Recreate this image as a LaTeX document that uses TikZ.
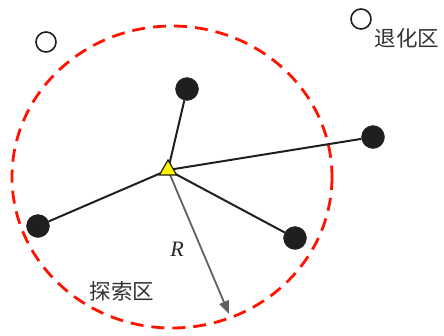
\documentclass[tikz,border=0pt]{standalone}
\usepackage{fontspec}
\setmainfont{Liberation Serif}
\newfontfamily\cjk{Noto Sans CJK SC}
\usetikzlibrary{arrows.meta,shapes.geometric}
\begin{document}
\begin{tikzpicture}[x=1pt,y=-1pt,
  agent/.style={circle,fill=black!88,draw=black!88,minimum size=23pt,inner sep=0pt},
  hollow/.style={circle,draw=black!88,line width=1.6pt,minimum size=20pt,inner sep=0pt},
  link/.style={line width=2pt,draw=black!88},
  lbl/.style={font=\cjk\fontsize{21.5}{21.5}\selectfont,text=black!80,inner sep=0pt}]
\useasboundingbox (0,0) rectangle (444,335);
\draw[red!85!orange,line width=2.8pt,dash pattern=on 13pt off 8pt] (172,177) ellipse [x radius=160, y radius=151];
\node[hollow] (h1) at (46,42) {};
\node[hollow] (h2) at (361,19) {};
\node[lbl] (t1) at (407,38) {退化区};
\node[lbl] (t2) at (122,291) {探索区};
\node[agent] (a1) at (187,89) {};
\node[agent] (a2) at (373,137) {};
\node[agent] (a3) at (38,226) {};
\node[agent] (a4) at (295,238) {};
\coordinate (c) at (168,170);
\coordinate (tip) at (229,314);
\draw[link] (c) -- (a1);
\draw[link] (c) -- (a2);
\draw[link] (c) -- (a3);
\draw[link] (c) -- (a4);
\draw[gray!75!black,line width=1.8pt,-{Triangle[length=13pt,width=10pt]}] (c) -- (tip);
\node[draw=black!88,fill=yellow,line width=1.2pt,regular polygon,regular polygon sides=3,inner sep=0pt,minimum size=20pt] (tri) at (168,170) {};
\node[font=\fontsize{22}{22}\selectfont\itshape,text=black!85] (r) at (177,249) {R};
\end{tikzpicture}
\end{document}
